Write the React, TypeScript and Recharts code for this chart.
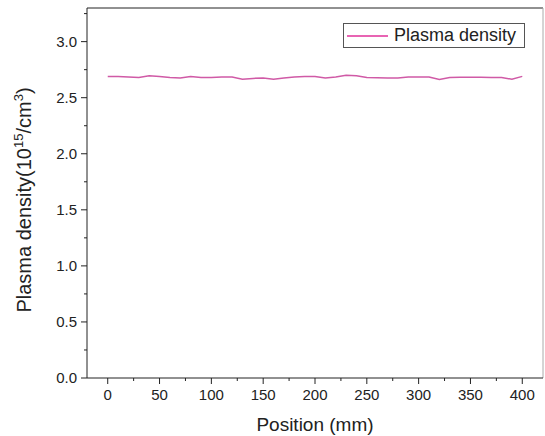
import React from "react";
import { LineChart, Line, XAxis, YAxis, ReferenceLine } from "recharts";

// position along the source (mm) and measured density (10^15 / cm^3)
const positions = [
  0, 10, 20, 30, 40, 50, 60, 70, 80, 90, 100, 110, 120, 130, 140, 150, 160, 170, 180, 190, 200,
  210, 220, 230, 240, 250, 260, 270, 280, 290, 300, 310, 320, 330, 340, 350, 360, 370, 380, 390, 400,
];
const density = [
  2.69, 2.69, 2.685, 2.68, 2.695, 2.69, 2.68, 2.675, 2.69, 2.68, 2.68, 2.685, 2.685, 2.665, 2.672,
  2.675, 2.665, 2.675, 2.685, 2.688, 2.69, 2.675, 2.685, 2.7, 2.695, 2.68, 2.677, 2.675, 2.675,
  2.685, 2.685, 2.685, 2.662, 2.68, 2.682, 2.682, 2.682, 2.68, 2.68, 2.665, 2.69,
];

const xMajor = [0, 50, 100, 150, 200, 250, 300, 350, 400];
const xMinor = [25, 75, 125, 175, 225, 275, 325, 375];
const yMajor = [0, 0.5, 1, 1.5, 2, 2.5, 3];
const yMinor = [0.25, 0.75, 1.25, 1.75, 2.25, 2.75, 3.25];

const seriesName = "Plasma density";
const lineColor = "#d05aa6";
const font = "'Liberation Sans', Arial, sans-serif";

const data = positions.map((p, i) => ({ position: p, density: density[i] }));
const xTicks = [...xMajor, ...xMinor].sort((a, b) => a - b);
const yTicks = [...yMajor, ...yMinor].sort((a, b) => a - b);

const XTick = (props: any) => {
  const { x, y, payload } = props;
  const major = xMajor.includes(payload.value);
  return (
    <g>
      <line x1={x} x2={x} y1={y} y2={y + (major ? 6 : 3)} stroke="#222" />
      {major && (
        <text x={x} y={y + 22} textAnchor="middle" fontSize={15} fill="#222" fontFamily={font}>
          {payload.value}
        </text>
      )}
    </g>
  );
};

const YTick = (props: any) => {
  const { x, y, payload } = props;
  const major = yMajor.includes(payload.value);
  return (
    <g>
      <line x1={x} x2={x - (major ? 6 : 3)} y1={y} y2={y} stroke="#222" />
      {major && (
        <text x={x - 10} y={y + 5} textAnchor="end" fontSize={15} fill="#222" fontFamily={font}>
          {payload.value.toFixed(1)}
        </text>
      )}
    </g>
  );
};

const YLabel = () => (
  <text
    transform="translate(31,200) rotate(-90)"
    textAnchor="middle"
    fontSize={20}
    fill="#222"
    fontFamily={font}
  >
    Plasma density(10
    <tspan fontSize={13} dy={-8}>15</tspan>
    <tspan dy={8}>/cm</tspan>
    <tspan fontSize={13} dy={-8}>3</tspan>
    <tspan dy={8}>)</tspan>
  </text>
);

export default function App() {
  return (
    <div style={{ position: "absolute", left: 0, top: 0, width: 545, height: 436, background: "#fff" }}>
      <LineChart width={545} height={436} data={data} margin={{ top: 8, right: 2, left: 0, bottom: 0 }}>
        <XAxis
          dataKey="position"
          type="number"
          domain={[-20, 420]}
          ticks={xTicks}
          interval={0}
          tick={<XTick />}
          tickLine={false}
          tickSize={0}
          tickMargin={0}
          height={58}
          axisLine={{ stroke: "#222" }}
          label={{
            value: "Position (mm)",
            position: "insideBottom",
            offset: 5,
            fontSize: 19,
            fill: "#222",
            fontFamily: font,
          }}
        />
        <YAxis
          type="number"
          domain={[0, 3.3]}
          ticks={yTicks}
          interval={0}
          tick={<YTick />}
          tickLine={false}
          tickSize={0}
          tickMargin={0}
          width={87}
          axisLine={{ stroke: "#222" }}
          label={<YLabel />}
        />
        <ReferenceLine y={3.3} stroke="#222" />
        <ReferenceLine x={420} stroke="#aaa" />
        <Line
          dataKey="density"
          name={seriesName}
          stroke={lineColor}
          strokeWidth={1.5}
          dot={false}
          type="linear"
          isAnimationActive={false}
        />
      </LineChart>
      <div
        style={{
          position: "absolute",
          top: 23,
          left: 343,
          width: 182,
          height: 25,
          border: "1px solid #555",
          background: "#fff",
          boxSizing: "border-box",
          display: "flex",
          alignItems: "center",
          fontFamily: font,
          fontSize: 18,
          color: "#222",
        }}
      >
        <svg width={50} height={10}>
          <line x1={3} x2={44} y1={5} y2={5} stroke="#e0309a" strokeWidth={1.5} />
        </svg>
        <span>{seriesName}</span>
      </div>
    </div>
  );
}
